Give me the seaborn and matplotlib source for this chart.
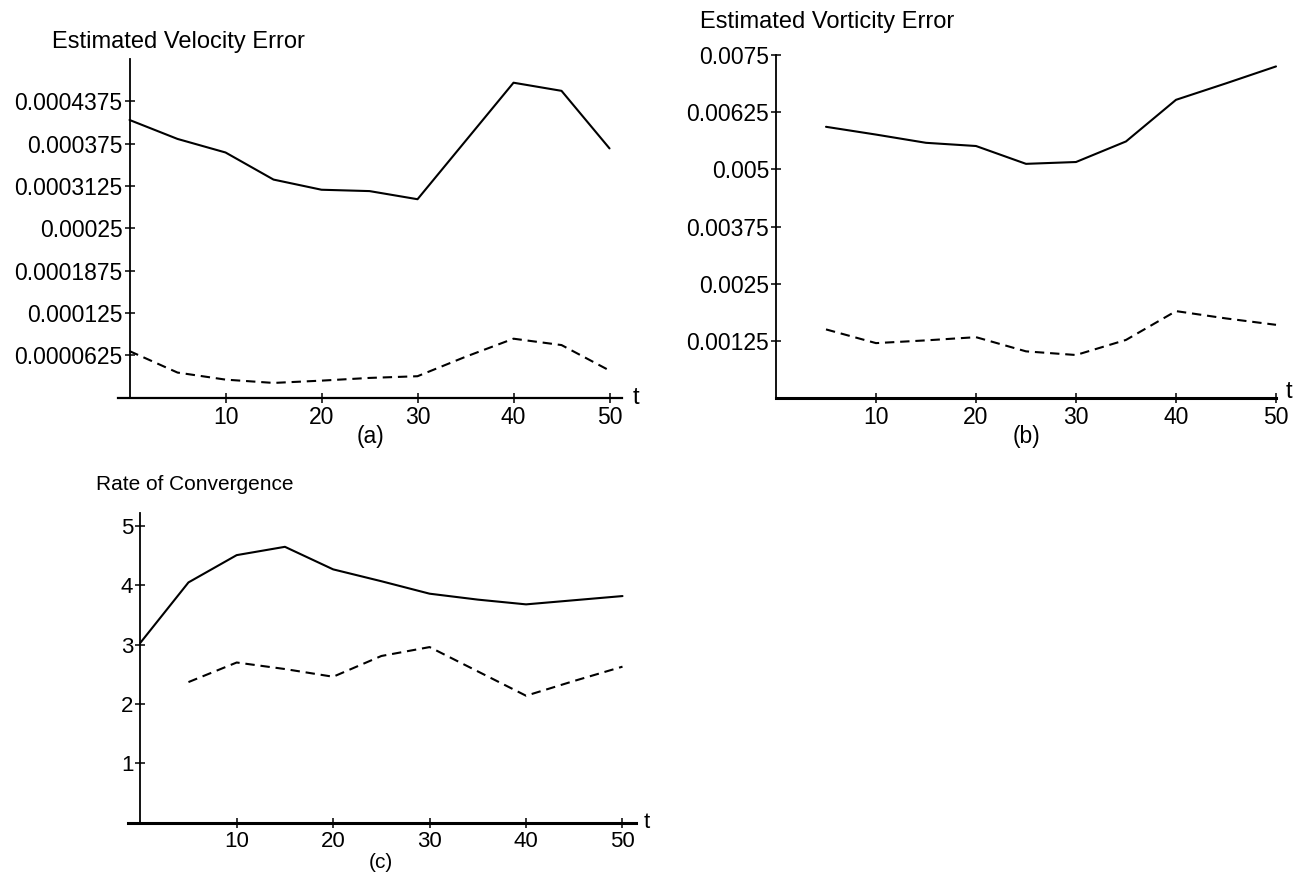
import matplotlib
matplotlib.use("Agg")
import matplotlib.pyplot as plt
import seaborn as sns
import numpy as np

sns.set_theme(style="white")
plt.rcParams["font.family"] = ["Liberation Sans", "DejaVu Sans"]
plt.rcParams["text.color"] = "black"
plt.rcParams["xtick.color"] = "black"
plt.rcParams["ytick.color"] = "black"

# ---------------- data ----------------
t_full = [0, 5, 10, 15, 20, 25, 30, 35, 40, 45, 50]
t_from5 = [5, 10, 15, 20, 25, 30, 35, 40, 45, 50]

vel_solid = [0.000410, 0.000382, 0.000362, 0.000322, 0.000307, 0.000305,
             0.000293, 0.000379, 0.000465, 0.000453, 0.000368]
vel_dashed = [0.0000688, 0.0000371, 0.0000267, 0.0000218, 0.0000252, 0.0000292,
              0.0000317, 0.0000604, 0.0000871, 0.0000777, 0.0000401]

vort_solid = [0.00593, 0.00576, 0.00558, 0.00551, 0.00512, 0.00516,
              0.00561, 0.00652, 0.00688, 0.00725]
vort_dashed = [0.00150, 0.00120, 0.00126, 0.00133, 0.00102, 0.00094,
               0.00127, 0.00190, 0.00174, 0.00160]

rate_solid = [3.03, 4.05, 4.51, 4.65, 4.27, 4.07, 3.86, 3.76, 3.68, 3.75, 3.82]
rate_dashed = [2.37, 2.70, 2.59, 2.46, 2.81, 2.96, 2.55, 2.14, 2.39, 2.63]

x_ticks = [10, 20, 30, 40, 50]
vel_ticks = [0.0000625, 0.000125, 0.0001875, 0.00025, 0.0003125, 0.000375, 0.0004375]
vel_labels = ["0.0000625", "0.000125", "0.0001875", "0.00025", "0.0003125", "0.000375", "0.0004375"]
vort_ticks = [0.00125, 0.0025, 0.00375, 0.005, 0.00625, 0.0075]
vort_labels = ["0.00125", "0.0025", "0.00375", "0.005", "0.00625", "0.0075"]
rate_ticks = [1, 2, 3, 4, 5]
rate_labels = ["1", "2", "3", "4", "5"]

titles = ["Estimated Velocity Error", "Estimated Vorticity Error", "Rate of Convergence"]
panel_labels = ["(a)", "(b)", "(c)"]

W, H = 1307, 875
fig = plt.figure(figsize=(W / 100, H / 100), dpi=100)
fig.patch.set_facecolor("white")


def add_axes_px(left, right, top, bottom):
    return fig.add_axes([left / W, 1 - bottom / H, (right - left) / W, (bottom - top) / H])


def style(ax, xlim, ylim, xb, yb, xt, yt, ytl, fs, xaxis_lw=1.6):
    ax.set_facecolor("none")
    ax.set_xlim(*xlim)
    ax.set_ylim(*ylim)
    for s in ["top", "right"]:
        ax.spines[s].set_visible(False)
    ax.spines["left"].set_position(("data", 0))
    ax.spines["bottom"].set_position(("data", 0))
    ax.spines["left"].set_bounds(*yb)
    ax.spines["bottom"].set_bounds(*xb)
    ax.spines["left"].set_color("black")
    ax.spines["bottom"].set_color("black")
    ax.spines["left"].set_linewidth(1.3)
    ax.spines["bottom"].set_linewidth(xaxis_lw)
    ax.set_xticks(xt)
    ax.set_xticklabels([str(v) for v in xt])
    ax.set_yticks(yt)
    ax.set_yticklabels(ytl)
    ax.tick_params(axis="both", which="major", bottom=True, left=True,
                   top=False, right=False, direction="inout", length=7,
                   width=1.1, color="black", labelcolor="black",
                   labelsize=fs, pad=1.5)
    ax.tick_params(axis="x", pad=2.5)
    ax.set_xlabel("")
    ax.set_ylabel("")
    ax.grid(False)


def draw(ax, x, y, dashed=False):
    if dashed:
        sns.lineplot(x=x, y=y, ax=ax, color="black", linewidth=1.5,
                     linestyle=(0, (4.5, 2.8)), clip_on=False)
    else:
        sns.lineplot(x=x, y=y, ax=ax, color="black", linewidth=1.5, clip_on=False)


# ---------------- panel (a) ----------------
axa = add_axes_px(118, 622, 59, 397.7)
draw(axa, t_full, vel_solid)
draw(axa, t_full, vel_dashed, dashed=True)
style(axa, (-1.2, 51.3), (0, 0.0005), (-1.2, 51.3), (0, 0.0005),
      x_ticks, vel_ticks, vel_labels, 16.5)
axa.text(52.7, 0, "t", ha="center", va="center", fontsize=17, color="black")

# ---------------- panel (b) ----------------
axb = add_axes_px(776, 1276, 55, 398)
draw(axb, t_from5, vort_solid)
draw(axb, t_from5, vort_dashed, dashed=True)
style(axb, (0, 50), (0, 0.0075), (0, 50), (0, 0.0075),
      x_ticks, vort_ticks, vort_labels, 16.5, xaxis_lw=2.2)
axb.text(51.3, 0.00013, "t", ha="center", va="center", fontsize=17, color="black")

# ---------------- panel (c) ----------------
axc = add_axes_px(127.7, 636, 513, 822.7)
draw(axc, t_full, rate_solid)
draw(axc, t_from5, rate_dashed, dashed=True)
style(axc, (-1.3, 51.4), (0, 5.22), (-1.3, 51.4), (0, 5.22),
      x_ticks, rate_ticks, rate_labels, 16, xaxis_lw=2.2)
axc.text(52.5, 0, "t", ha="center", va="center", fontsize=16, color="black")

# ---------------- titles & panel labels ----------------
fig.text(52 / W, 1 - 48 / H, titles[0], ha="left", va="baseline", fontsize=17, color="black")
fig.text(700 / W, 1 - 28 / H, titles[1], ha="left", va="baseline", fontsize=17, color="black")
fig.text(96 / W, 1 - 490 / H, titles[2], ha="left", va="baseline", fontsize=15, color="black")

fig.text(370 / W, 1 - 437 / H, panel_labels[0], ha="center", va="center", fontsize=16.5, color="black")
fig.text(1026 / W, 1 - 437 / H, panel_labels[1], ha="center", va="center", fontsize=16.5, color="black")
fig.text(381 / W, 1 - 862 / H, panel_labels[2], ha="center", va="center", fontsize=15, color="black")

fig.savefig("out.png", dpi=100, facecolor="white")
